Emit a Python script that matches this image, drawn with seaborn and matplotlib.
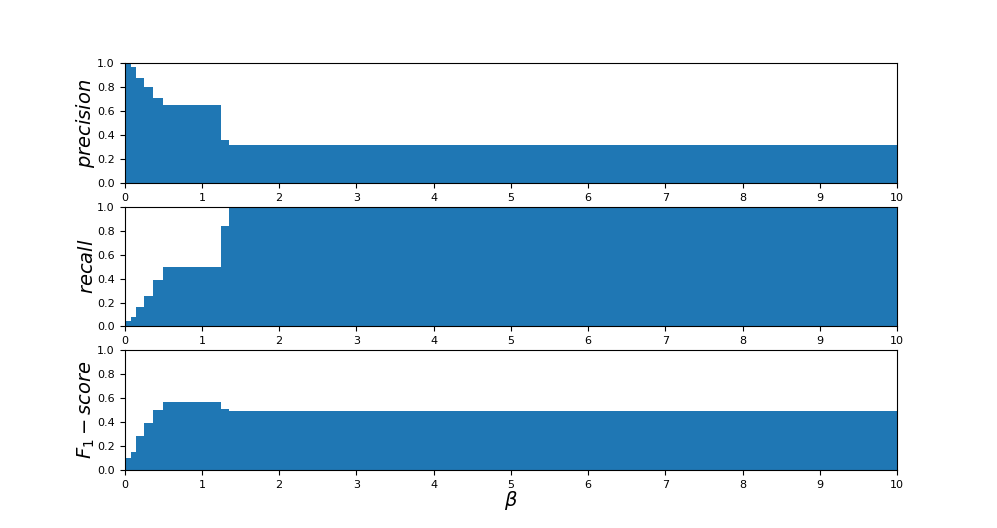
import numpy as np
import matplotlib
matplotlib.use("Agg")
import matplotlib.pyplot as plt
import seaborn as sns

# step edges along beta and the value in each interval
beta_edges = [0.0, 0.04, 0.08, 0.15, 0.25, 0.37, 0.5, 1.25, 1.35, 10.0]
precision = [1.0, 1.0, 0.972, 0.88, 0.804, 0.709, 0.648, 0.36, 0.321]
recall = [0.048, 0.048, 0.081, 0.166, 0.253, 0.39, 0.5, 0.837, 0.99]
f1_score = [0.098, 0.098, 0.154, 0.284, 0.39, 0.503, 0.567, 0.506, 0.489]

ylabels = ['$precision$', '$recall$', '$F_1-score$']
series = [precision, recall, f1_score]

fig, axes = plt.subplots(3, 1, figsize=(9.97, 5.28), dpi=100)
left = beta_edges[:-1]
for ax, vals, lab in zip(axes, series, ylabels):
    sns.histplot(x=left, weights=vals, bins=beta_edges, ax=ax,
                 color='#1f77b4', alpha=1, linewidth=0, element='bars')
    ax.set_xlim(0, 10)
    ax.set_ylim(0, 1)
    ax.set_xticks(np.arange(0, 11, 1))
    ax.set_yticks(np.arange(0, 1.01, 0.2))
    ax.tick_params(labelsize=8)
    ax.set_ylabel(lab, fontsize=14)
    ax.yaxis.set_label_coords(-0.036, 0.5)
    ax.set_xlabel('')

axes[-1].set_xlabel(r'$\beta$', fontsize=14)
axes[-1].xaxis.set_label_coords(0.5, -0.16)
fig.savefig('out.png', dpi=100)
